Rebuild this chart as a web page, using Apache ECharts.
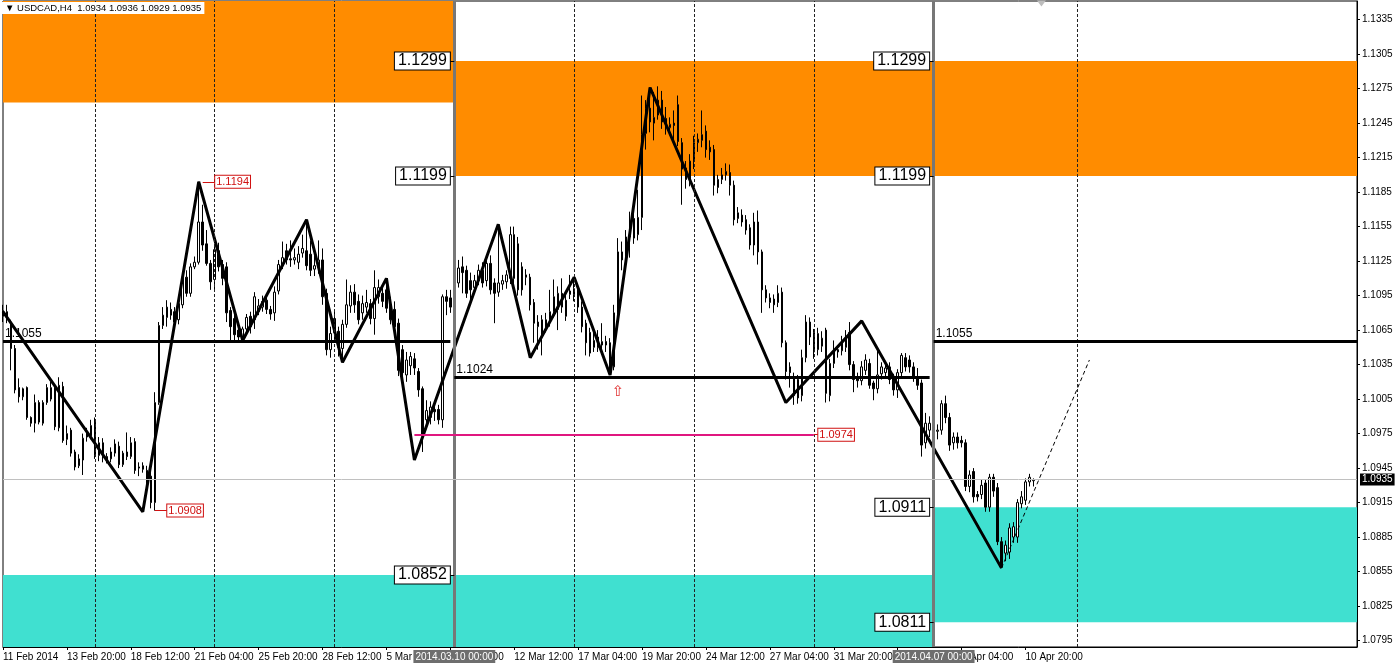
<!DOCTYPE html>
<html><head><meta charset="utf-8">
<script src="https://cdn.jsdelivr.net/npm/echarts@6/dist/echarts.min.js"></script>
<style>html,body{margin:0;padding:0;background:#fff}#c{width:1399px;height:664px}</style>
</head><body><div id="c"></div><script>
// ---------- data ----------
const barCount = 340; // visible H4 bars incl. right shift space
const categories = Array.from({length: barCount}, (_, i) => String(i));
// [open, close, low, high] per H4 bar starting 11 Feb 2014 04:00
const candles = [
[1.1077,1.1082,1.1072,1.1087],[1.1081,1.1074,1.1071,1.1087],[1.1072,1.1049,1.1030,1.1074],[1.1049,1.1013,1.1010,1.1052],
[1.1015,1.1007,1.1002,1.1023],[1.1007,1.1014,1.1004,1.1015],[1.1015,1.0989,1.0987,1.1016],[1.0989,1.0984,1.0981,1.0990],
[1.0984,1.1002,1.0976,1.1009],[1.1002,1.0985,1.0983,1.1004],[1.0984,1.1002,1.0982,1.1004],[1.1002,1.1015,1.1000,1.1018],
[1.1005,1.1015,1.1003,1.1020],[1.1015,1.0981,1.0978,1.1018],[1.0980,1.1017,1.0977,1.1024],[1.1016,1.0969,1.0967,1.1020],
[1.0970,1.0975,1.0965,1.0982],[1.0978,1.0958,1.0955,1.0980],[1.0959,1.0946,1.0943,1.0961],[1.0947,1.0953,1.0945,1.0957],
[1.0952,1.0971,1.0939,1.0975],[1.0972,1.0976,1.0968,1.0980],[1.0973,1.0982,1.0970,1.0987],[1.0985,1.0956,1.0953,1.0989],
[1.0956,1.0967,1.0951,1.0972],[1.0967,1.0955,1.0950,1.0971],[1.0955,1.0952,1.0949,1.0958],[1.0953,1.0959,1.0950,1.0963],
[1.0958,1.0966,1.0955,1.0970],[1.0964,1.0948,1.0945,1.0968],[1.0948,1.0958,1.0946,1.0960],[1.0959,1.0955,1.0952,1.0976],
[1.0955,1.0967,1.0953,1.0972],[1.0968,1.0943,1.0940,1.0971],[1.0946,1.0945,1.0938,1.0950],[1.0947,1.0944,1.0941,1.0950],
[1.0943,1.0930,1.0926,1.0947],[1.0938,1.0915,1.0910,1.0941],[1.0915,1.1002,1.0908,1.1011],[1.1002,1.1069,1.1000,1.1072],
[1.1069,1.1078,1.1066,1.1085],[1.1076,1.1085,1.1068,1.1091],[1.1083,1.1078,1.1074,1.1089],[1.1081,1.1072,1.1065,1.1085],
[1.1074,1.1088,1.1070,1.1094],[1.1087,1.1111,1.1084,1.1114],[1.1111,1.1097,1.1094,1.1117],[1.1097,1.1120,1.1094,1.1123],
[1.1120,1.1124,1.1118,1.1129],[1.1124,1.1159,1.1122,1.1194],[1.1159,1.1139,1.1134,1.1174],[1.1140,1.1123,1.1121,1.1152],
[1.1123,1.1107,1.1100,1.1126],[1.1109,1.1135,1.1099,1.1139],[1.1134,1.1120,1.1116,1.1141],[1.1122,1.1110,1.1104,1.1126],
[1.1120,1.1080,1.1072,1.1124],[1.1082,1.1068,1.1056,1.1085],[1.1075,1.1061,1.1055,1.1080],[1.1065,1.1059,1.1055,1.1070],
[1.1058,1.1066,1.1056,1.1068],[1.1066,1.1076,1.1063,1.1079],[1.1077,1.1068,1.1062,1.1081],[1.1074,1.1094,1.1066,1.1098],
[1.1081,1.1086,1.1078,1.1092],[1.1085,1.1090,1.1081,1.1095],[1.1091,1.1083,1.1079,1.1095],[1.1083,1.1079,1.1074,1.1086],
[1.1080,1.1098,1.1073,1.1103],[1.1099,1.1122,1.1096,1.1126],[1.1121,1.1128,1.1118,1.1142],[1.1134,1.1126,1.1122,1.1140],
[1.1127,1.1126,1.1120,1.1143],[1.1126,1.1128,1.1122,1.1136],[1.1124,1.1131,1.1118,1.1138],[1.1132,1.1136,1.1128,1.1148],
[1.1134,1.1121,1.1117,1.1161],[1.1131,1.1117,1.1112,1.1143],[1.1118,1.1121,1.1112,1.1130],[1.1120,1.1126,1.1114,1.1143],
[1.1126,1.1094,1.1087,1.1136],[1.1097,1.1048,1.1043,1.1101],[1.1048,1.1062,1.1041,1.1068],[1.1075,1.1063,1.1055,1.1083],
[1.1064,1.1050,1.1042,1.1068],[1.1049,1.1070,1.1037,1.1074],[1.1070,1.1087,1.1067,1.1109],[1.1086,1.1098,1.1080,1.1104],
[1.1098,1.1087,1.1080,1.1105],[1.1090,1.1074,1.1070,1.1096],[1.1080,1.1088,1.1074,1.1095],[1.1085,1.1089,1.1080,1.1100],
[1.1088,1.1075,1.1070,1.1092],[1.1075,1.1102,1.1061,1.1117],[1.1094,1.1102,1.1088,1.1109],[1.1097,1.1090,1.1085,1.1105],
[1.1100,1.1084,1.1080,1.1110],[1.1087,1.1074,1.1070,1.1094],[1.1083,1.1068,1.1063,1.1090],[1.1071,1.1030,1.1025,1.1075],
[1.1048,1.1028,1.1022,1.1052],[1.1026,1.1039,1.1020,1.1046],[1.1034,1.1042,1.1026,1.1046],[1.1040,1.1032,1.1026,1.1045],
[1.1029,1.1013,1.1007,1.1032],[1.1014,1.0974,1.0959,1.1016],[1.0987,1.0995,1.0980,1.1004],[1.0989,1.0998,1.0983,1.1003],
[1.0996,1.0994,1.0986,1.1000],[1.0996,1.0987,1.0983,1.1000],[1.0987,1.1094,1.0980,1.1096],[1.1094,1.1090,1.1078,1.1100],
[1.1093,1.1085,1.1080,1.1100],[1.1091,1.1106,1.1087,1.1110],[1.1106,1.1119,1.1102,1.1126],[1.1120,1.1115,1.1097,1.1129],
[1.1117,1.1097,1.1093,1.1121],[1.1108,1.1100,1.1091,1.1115],[1.1102,1.1108,1.1098,1.1113],[1.1108,1.1117,1.1104,1.1122],
[1.1117,1.1106,1.1102,1.1124],[1.1108,1.1123,1.1103,1.1130],[1.1123,1.1100,1.1096,1.1130],[1.1106,1.1097,1.1071,1.1110],
[1.1098,1.1106,1.1094,1.1157],[1.1105,1.1108,1.1100,1.1113],[1.1107,1.1113,1.1101,1.1117],[1.1110,1.1148,1.1105,1.1155],
[1.1148,1.1110,1.1100,1.1155],[1.1140,1.1100,1.1095,1.1146],[1.1120,1.1100,1.1095,1.1124],[1.1113,1.1111,1.1104,1.1118],
[1.1111,1.1087,1.1082,1.1114],[1.1089,1.1071,1.1054,1.1092],[1.1068,1.1072,1.1048,1.1078],[1.1059,1.1074,1.1043,1.1078],
[1.1067,1.1074,1.1063,1.1080],[1.1074,1.1081,1.1068,1.1100],[1.1081,1.1094,1.1076,1.1109],[1.1083,1.1097,1.1065,1.1103],
[1.1097,1.1085,1.1080,1.1110],[1.1077,1.1091,1.1073,1.1096],[1.1096,1.1099,1.1092,1.1113],[1.1096,1.1101,1.1090,1.1111],
[1.1100,1.1085,1.1080,1.1106],[1.1085,1.1068,1.1063,1.1090],[1.1071,1.1054,1.1043,1.1074],[1.1063,1.1045,1.1042,1.1067],
[1.1050,1.1056,1.1046,1.1063],[1.1059,1.1050,1.1046,1.1065],[1.1052,1.1055,1.1045,1.1071],[1.1055,1.1052,1.1046,1.1060],
[1.1054,1.1027,1.1026,1.1058],[1.1033,1.1080,1.1030,1.1087],[1.1080,1.1133,1.1076,1.1145],[1.1133,1.1126,1.1117,1.1142],
[1.1126,1.1146,1.1120,1.1152],[1.1146,1.1150,1.1128,1.1168],[1.1162,1.1145,1.1140,1.1170],[1.1148,1.1163,1.1143,1.1187],
[1.1163,1.1235,1.1152,1.1269],[1.1236,1.1258,1.1222,1.1265],[1.1258,1.1246,1.1237,1.1276],[1.1245,1.1250,1.1230,1.1272],
[1.1252,1.1265,1.1248,1.1277],[1.1265,1.1246,1.1240,1.1273],[1.1249,1.1243,1.1235,1.1259],[1.1241,1.1244,1.1236,1.1250],
[1.1245,1.1243,1.1230,1.1256],[1.1261,1.1229,1.1225,1.1269],[1.1228,1.1205,1.1174,1.1232],[1.1206,1.1196,1.1188,1.1212],
[1.1196,1.1212,1.1190,1.1218],[1.1212,1.1228,1.1205,1.1234],[1.1228,1.1231,1.1220,1.1236],[1.1230,1.1235,1.1224,1.1256],
[1.1238,1.1222,1.1215,1.1243],[1.1224,1.1220,1.1213,1.1230],[1.1222,1.1191,1.1182,1.1226],[1.1189,1.1196,1.1184,1.1200],
[1.1196,1.1200,1.1192,1.1206],[1.1200,1.1203,1.1195,1.1210],[1.1202,1.1191,1.1182,1.1209],[1.1191,1.1161,1.1156,1.1195],
[1.1162,1.1167,1.1158,1.1172],[1.1165,1.1159,1.1155,1.1170],[1.1161,1.1152,1.1148,1.1165],[1.1154,1.1139,1.1135,1.1157],
[1.1139,1.1159,1.1130,1.1167],[1.1159,1.1133,1.1122,1.1169],[1.1133,1.1100,1.1080,1.1135],[1.1100,1.1093,1.1089,1.1104],
[1.1089,1.1093,1.1084,1.1097],[1.1092,1.1087,1.1080,1.1096],[1.1089,1.1097,1.1085,1.1104],[1.1098,1.1054,1.1050,1.1102],
[1.1054,1.1029,1.1022,1.1056],[1.1033,1.1028,1.1015,1.1037],[1.1008,1.1024,1.1000,1.1028],[1.1022,1.1006,1.1001,1.1026],
[1.1008,1.1041,1.1003,1.1048],[1.1041,1.1072,1.1037,1.1078],[1.1072,1.1059,1.1052,1.1076],[1.1063,1.1046,1.1040,1.1066],
[1.1048,1.1062,1.1043,1.1067],[1.1051,1.1058,1.1046,1.1064],[1.1065,1.1010,1.1002,1.1067],[1.1008,1.1036,1.1003,1.1040],
[1.1036,1.1048,1.1032,1.1056],[1.1048,1.1046,1.1041,1.1052],[1.1047,1.1056,1.1043,1.1060],[1.1050,1.1058,1.1046,1.1065],
[1.1063,1.1035,1.1030,1.1072],[1.1035,1.1022,1.1011,1.1038],[1.1023,1.1021,1.1015,1.1028],[1.1021,1.1033,1.1017,1.1038],
[1.1030,1.1039,1.1026,1.1044],[1.1036,1.1017,1.1014,1.1040],[1.1019,1.1014,1.1004,1.1021],[1.1014,1.1026,1.1010,1.1048],
[1.1027,1.1033,1.1022,1.1037],[1.1028,1.1032,1.1024,1.1036],[1.1033,1.1022,1.1018,1.1037],[1.1024,1.1013,1.1008,1.1027],
[1.1013,1.1028,1.1006,1.1031],[1.1028,1.1043,1.1024,1.1045],[1.1041,1.1033,1.1029,1.1045],[1.1039,1.1033,1.1028,1.1043],
[1.1033,1.1024,1.1020,1.1037],[1.1024,1.1017,1.1013,1.1032],[1.1019,1.0965,1.0955,1.1022],[1.0967,1.0984,1.0962,1.0993],
[1.0978,1.0984,1.0972,1.0990],[1.0984,1.0977,1.0972,1.0988],[1.0977,1.0978,1.0970,1.0983],[1.0978,1.1001,1.0974,1.1004],
[1.1001,1.0989,1.0984,1.1008],[1.0989,1.0965,1.0960,1.0993],[1.0967,1.0972,1.0961,1.0976],[1.0972,1.0967,1.0962,1.0976],
[1.0969,1.0967,1.0963,1.0973],[1.0967,1.0929,1.0925,1.0970],[1.0929,1.0939,1.0924,1.0943],[1.0942,1.0920,1.0915,1.0945],
[1.0922,1.0920,1.0916,1.0925],[1.0922,1.0930,1.0918,1.0935],[1.0932,1.0911,1.0907,1.0935],[1.0911,1.0937,1.0907,1.0940],
[1.0937,1.0925,1.0920,1.0940],[1.0928,1.0881,1.0878,1.0932],[1.0881,1.0859,1.0858,1.0885],[1.0871,1.0878,1.0864,1.0882],
[1.0872,1.0893,1.0866,1.0897],[1.0885,1.0894,1.0880,1.0898],[1.0885,1.0915,1.0880,1.0918],[1.0914,1.0920,1.0910,1.0925],
[1.0917,1.0933,1.0913,1.0936],[1.0933,1.0937,1.0929,1.0940],[1.0934,1.0935,1.0929,1.0936]
];
// zigzag pivots [barIndex, price]
const zigzag = [[0,1.1081],[35,1.0907],[49,1.1194],[60,1.1056],[76,1.1161],[85,1.1037],[96,1.1110],[103,1.0952],
  [124,1.1157],[132,1.1041],[143,1.1111],[152,1.1026],[162,1.1276],[196,1.1002],[215,1.1073],[250,1.0858]];
const projection = [[250,1.0858],[272,1.1039]];
// y axis tick labels
const yTicks = [1.0795,1.0825,1.0855,1.0885,1.0915,1.0945,1.0975,1.1005,1.1035,1.1065,1.1095,1.1125,1.1155,1.1185,1.1215,1.1245,1.1275,1.1305,1.1335];
const Y_MIN = 1.07894, Y_MAX = 1.13512;
// x axis labels [barIndex, text]
const xTickLabels = [[0,'11 Feb 2014'],[16,'13 Feb 20:00'],[32,'18 Feb 12:00'],[48,'21 Feb 04:00'],[64,'25 Feb 20:00'],
  [80,'28 Feb 12:00'],[96,'5 Mar 04:00'],[112,'7 Mar 20:00'],[128,'12 Mar 12:00'],[144,'17 Mar 04:00'],[160,'19 Mar 20:00'],
  [176,'24 Mar 12:00'],[192,'27 Mar 04:00'],[208,'31 Mar 20:00'],[224,'3 Apr 12:00'],[240,'8 Apr 04:00'],[256,'10 Apr 20:00']];
const gridLineBars = [23,53,83,143,173,203,269];
const separators = [[113,'2014.03.10 00:00'],[233,'2014.04.07 00:00']];
// zones [fromBar, toBar, lowPrice, highPrice, kind]
const zones = [[0,113,1.1263,Y_MAX,'supply'],[113,233,1.1199,1.1299,'supply'],[233,339,1.1199,1.1299,'supply'],
  [0,113,Y_MIN,1.0852,'demand'],[113,233,Y_MIN,1.0852,'demand'],[233,339,1.0811,1.0911,'demand']];
// level lines [fromBar, toBar, price]
const levels = [[0,112,1.1055],[113,232,1.1024],[233,339,1.1055]];
const magentaLevel = [103,203,1.0974];
const currentPrice = 1.0935;
// boxed price labels [barIndex, price]
const boxLabels = [[112,1.1299],[112,1.1199],[112,1.0852],[232,1.1299],[232,1.1199],[232,1.0911],[232,1.0811]];
// red pivot labels [pivotBar, labelBar, price]
const redLabels = [[50,53,1.1194],[38,41,1.0908],[203,204,1.0974]];
const arrowMark = [154,1.1011];
const headerText = '\u25BC USDCAD,H4  1.0934 1.0936 1.0929 1.0935';

// ---------- chart ----------
const FONT = 'Liberation Sans, Arial, sans-serif';
const labelMap = {}; xTickLabels.forEach(([i,t]) => labelMap[i] = t);
const showLabel = (i) => labelMap[i] !== undefined;
const ZONE_COLORS = {supply:'#FF8C00', demand:'#40E0D0'};

const chart = echarts.init(document.getElementById('c'));
chart.setOption({
  animation: false,
  title: {text: headerText, left: 2, top: 2, padding: [1,3], backgroundColor: '#fff',
    textStyle: {fontSize: 9.5, fontWeight: 'normal', fontFamily: FONT, color: '#000'}},
  grid: {left: 1, right: 42, top: 1, bottom: 17, show: true, borderColor: '#000', borderWidth: 1, backgroundColor: '#fff'},
  xAxis: {type: 'category', data: categories, boundaryGap: false,
    axisLine: {lineStyle: {color: '#000', width: 1}},
    axisTick: {show: true, interval: showLabel, length: 3, lineStyle: {color: '#000'}},
    axisLabel: {interval: showLabel, formatter: (v, i) => labelMap[i] || '', align: 'left', color: '#000',
      fontSize: 10, fontFamily: FONT, margin: 5},
    splitLine: {show: false}},
  yAxis: {type: 'value', position: 'right', min: Y_MIN, max: Y_MAX, scale: true,
    axisLine: {show: true, lineStyle: {color: '#000'}},
    axisTick: {show: true, customValues: yTicks, length: 3, lineStyle: {color: '#000'}},
    axisLabel: {customValues: yTicks, formatter: v => v.toFixed(4), color: '#000', fontSize: 10, fontFamily: FONT, margin: 5},
    splitLine: {show: false}},
  series: [
    {type: 'line', data: [], z: 1, silent: true,
      markArea: {silent: true, label: {show: false},
        data: zones.map(([a,b,lo,hi,k]) => [{xAxis: a, yAxis: lo, itemStyle: {color: ZONE_COLORS[k], opacity: 1}}, {xAxis: b, yAxis: hi}])}},
    {type: 'line', data: [], z: 2, silent: true,
      markLine: {silent: true, symbol: ['none','none'], animation: false, precision: 5,
        data: [
          ...gridLineBars.map(i => ({xAxis: i, lineStyle: {color: '#222', width: 1, type: [3,2]}, label: {show: false}})),
          ...separators.map(([i,t]) => ({xAxis: i, lineStyle: {color: '#777', width: 3, type: 'solid'},
            label: {show: true, position: 'start', formatter: t, color: '#fff', backgroundColor: '#6e6e6e',
              fontSize: 10, fontFamily: FONT, padding: [2,2,1,2], distance: 3}})),
          {yAxis: currentPrice, lineStyle: {color: '#c0c0c0', width: 1, type: 'solid'},
            label: {show: true, position: 'end', formatter: currentPrice.toFixed(4), color: '#fff', backgroundColor: '#000',
              fontSize: 10, fontFamily: FONT, padding: [1,2,1,2], distance: 3}}
        ]}},
    {type: 'candlestick', data: candles, z: 3, barWidth: 2,
      itemStyle: {color: '#ffffff', color0: '#000000', borderColor: '#000', borderColor0: '#000', borderWidth: 1}},
    {type: 'line', data: zigzag, z: 4, symbol: 'none', silent: true, lineStyle: {color: '#000', width: 3}},
    {type: 'line', data: projection, z: 4, symbol: 'none', silent: true, lineStyle: {color: '#000', width: 1, type: [4,3]}},
    {type: 'line', data: [], z: 5, silent: true,
      markLine: {silent: true, symbol: ['none','none'], precision: 5,
        data: [
          ...levels.map(([a,b,p]) => [{coord: [a,p], lineStyle: {color: '#000', width: 3, type: 'solid'},
            label: {show: true, position: 'insideStartTop', formatter: p.toFixed(4), color: '#000', fontSize: 12, fontFamily: FONT, distance: 2}},
            {coord: [b,p]}]),
          [{coord: [magentaLevel[0], magentaLevel[2]], lineStyle: {color: '#E0177F', width: 2, type: 'solid'}, label: {show: false}},
           {coord: [magentaLevel[1], magentaLevel[2]]}],
          ...boxLabels.map(([i,p]) => [{coord: [i,p], lineStyle: {color: '#000', width: 1, type: 'solid'}, label: {show: false}}, {coord: [i+1,p]}]),
          ...redLabels.map(([a,b,p]) => [{coord: [a,p], lineStyle: {color: '#d01010', width: 1, type: 'solid'}, label: {show: false}}, {coord: [b,p]}])
        ]},
      markPoint: {silent: true, animation: false,
        data: [
          ...boxLabels.map(([i,p]) => ({coord: [i,p], symbol: 'circle', symbolSize: 1, itemStyle: {color: 'rgba(0,0,0,0)'},
            label: {show: true, position: 'left', distance: 0, formatter: p.toFixed(4), color: '#000', fontSize: 16, fontFamily: FONT,
              backgroundColor: '#fff', borderColor: '#000', borderWidth: 1, padding: [1,3,0,3]}})),
          ...redLabels.map(([a,b,p]) => ({coord: [b,p], symbol: 'circle', symbolSize: 1, itemStyle: {color: 'rgba(0,0,0,0)'},
            label: {show: true, position: 'right', distance: 0, formatter: p.toFixed(4), color: '#d01010', fontSize: 11, fontFamily: FONT,
              backgroundColor: '#fff', borderColor: '#d01010', borderWidth: 1, padding: [1,1,0,1]}})),
          {coord: arrowMark, symbol: 'circle', symbolSize: 1, itemStyle: {color: 'rgba(0,0,0,0)'},
            label: {show: true, position: 'inside', formatter: '\u21E7', color: '#e03030', fontSize: 15, fontFamily: 'DejaVu Sans'}},
          {coord: [260, 1.1349], symbol: 'triangle', symbolRotate: 180, symbolSize: [9,6], itemStyle: {color: '#bdbdbd'}, label: {show: false}}
        ]}}
  ]
});
</script></body></html>
